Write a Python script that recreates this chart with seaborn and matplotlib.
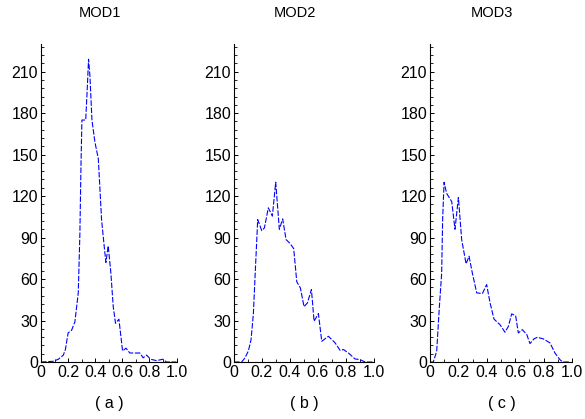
"""
Histogram outlines of the three models (MOD1, MOD2, MOD3), side by side.
"""

import matplotlib

matplotlib.use("Agg")
import matplotlib.pyplot as plt
import pandas as pd
import seaborn as sns
from matplotlib.ticker import AutoMinorLocator, MultipleLocator

# MOD1 curve
mod1_x = [0.0, 0.09, 0.128, 0.165, 0.18, 0.2, 0.226, 0.25, 0.275, 0.287, 0.295, 0.302,
          0.33, 0.341, 0.351, 0.361, 0.376, 0.398, 0.423, 0.447, 0.464, 0.479, 0.496,
          0.516, 0.533, 0.55, 0.575, 0.602, 0.627, 0.656, 0.73, 0.754, 0.779, 0.808,
          0.853, 0.9, 0.926, 1.0]
mod1_y = [0, 0.5, 2, 5, 9, 21, 23, 29, 50, 93, 142, 175,
          175, 197, 219, 207, 175, 159, 147, 103, 86, 72, 84,
          64, 40, 28, 31, 8, 10, 6.5, 6.5, 3, 5, 2,
          1, 2, 0, 0]

# MOD2 curve
mod2_x = [0.0, 0.055, 0.079, 0.103, 0.122, 0.139, 0.151, 0.17, 0.199, 0.218, 0.246,
          0.275, 0.299, 0.325, 0.349, 0.373, 0.402, 0.428, 0.45, 0.476, 0.502, 0.526,
          0.555, 0.574, 0.605, 0.629, 0.677, 0.725, 0.761, 0.785, 0.82, 0.868, 0.904,
          0.94, 1.0]
mod2_y = [0, 0, 3, 8, 16, 35, 62, 103, 95, 97, 111.5,
          105.5, 130, 96, 103.5, 88.6, 85.7, 82, 58, 53.6, 40, 42.7,
          52.4, 29.5, 35, 15, 18.6, 13.8, 8.4, 9, 6.5, 2.2, 1.7,
          0, 0]

# MOD3 curve
mod3_x = [0.0, 0.023, 0.047, 0.066, 0.082, 0.089, 0.099, 0.117, 0.153, 0.176, 0.2,
          0.223, 0.254, 0.275, 0.298, 0.329, 0.369, 0.399, 0.423, 0.451, 0.493, 0.528,
          0.552, 0.575, 0.603, 0.622, 0.65, 0.681, 0.704, 0.732, 0.756, 0.798, 0.845,
          0.88, 0.915, 0.934, 0.986]
mod3_y = [0, 0, 7.7, 40, 64, 103, 130, 122, 116, 96, 119,
          88.6, 71, 76.5, 64.4, 50, 49.5, 56, 42.7, 31, 27, 21.5,
          25.8, 34.8, 33.5, 21, 23.4, 20, 13.3, 16.7, 17.9, 16.7, 13.8,
          6.5, 1.7, 0, 0]

titles = ["MOD1", "MOD2", "MOD3"]
captions = ["( a )", "( b )", "( c )"]
y_ticks = [0, 30, 60, 90, 120, 150, 180, 210]
x_ticks = [0, 0.2, 0.4, 0.6, 0.8, 1.0]
x_tick_labels = ["0", "0.2", "0.4", "0.6", "0.8", "1.0"]

series = [(mod1_x, mod1_y), (mod2_x, mod2_y), (mod3_x, mod3_y)]

# axes boxes in pixels: left, right (figure is 585 x 419)
boxes = [(41, 176.5), (234, 373.5), (430, 572)]
TOP_PX, BOTTOM_PX = 44, 362
W, H = 585, 419


def main() -> None:
    sns.set_theme(style="ticks")
    plt.rcParams["font.family"] = ["Liberation Sans", "DejaVu Sans"]
    plt.rcParams["text.color"] = "black"

    fig = plt.figure(figsize=(W / 100, H / 100), dpi=100)
    fig.patch.set_facecolor("white")

    for (xs, ys), (l, r), title, cap in zip(series, boxes, titles, captions):
        ax = fig.add_axes([l / W, (H - BOTTOM_PX) / H, (r - l) / W, (BOTTOM_PX - TOP_PX) / H])
        df = pd.DataFrame({"x": xs, "y": ys})
        sns.lineplot(data=df, x="x", y="y", ax=ax, color="#0000ff",
                     linewidth=0.8, linestyle=(0, (5, 1.5)), sort=False)
        ax.set_xlim(0, 1.0)
        ax.set_ylim(0, 230)
        ax.set_xticks(x_ticks)
        ax.set_xticklabels(x_tick_labels)
        ax.set_yticks(y_ticks)
        ax.xaxis.set_minor_locator(MultipleLocator(0.1))
        ax.yaxis.set_minor_locator(AutoMinorLocator(5))
        ax.tick_params(which="both", direction="in", labelsize=11.5, colors="black",
                       pad=2)
        ax.tick_params(which="major", length=3, width=0.7)
        ax.tick_params(which="minor", length=2, width=0.6)
        ax.set_xlabel("")
        ax.set_ylabel("")
        ax.set_facecolor("white")
        for side in ("top", "right"):
            ax.spines[side].set_visible(False)
        for side in ("left", "bottom"):
            ax.spines[side].set_color("black")
            ax.spines[side].set_linewidth(0.8)

        cx = (l + r) / 2 - 9
        fig.text(cx / W, (H - 13) / H, title, ha="center", va="center",
                 fontsize=10.5, color="black")
        fig.text((cx + 10) / W, (H - 403) / H, cap, ha="center", va="center",
                 fontsize=11.5, color="black")

    fig.savefig("out.png", dpi=100, facecolor="white")


if __name__ == "__main__":
    main()
